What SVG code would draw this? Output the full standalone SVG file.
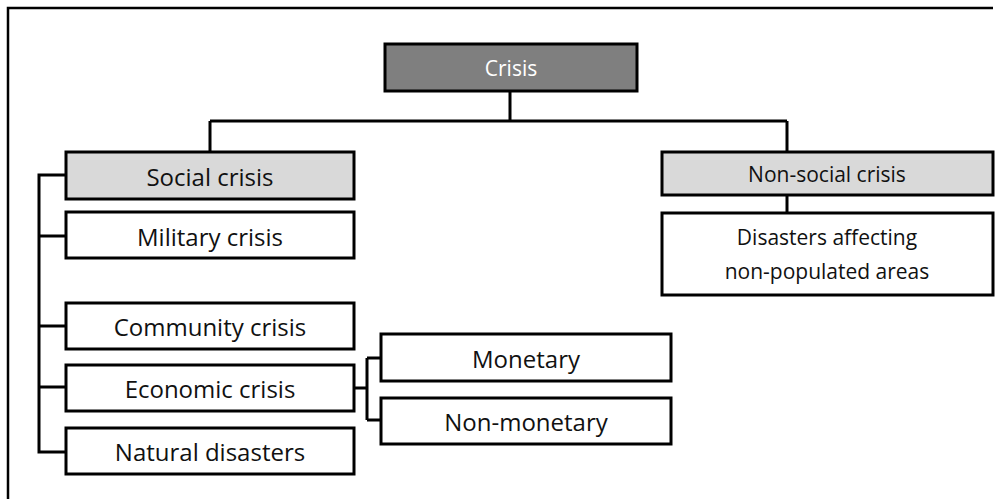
<svg xmlns="http://www.w3.org/2000/svg" width="1003" height="499" viewBox="0 0 1003 499">
<style>
.box{stroke:#000;stroke-width:3;fill:#fff}
.root{fill:#7f7f7f}
.cat{fill:#d9d9d9}
.lbl{font-family:"Open Sans","Liberation Sans",sans-serif;font-size:24px;fill:#111;text-anchor:middle;dominant-baseline:central}
.sm{font-size:21px}
.wl{fill:#fff}
.ln{stroke:#000;stroke-width:3;fill:none}
</style>
<rect width="1003" height="499" fill="#fff"/>
<path d="M8 510 V8 H993" stroke="#000" stroke-width="2.5" fill="none"/>
<g id="connectors">
<path class="ln" d="M510 92 V121 M210 121 H787 M210 121 V152 M787 121 V152"/>
<path class="ln" d="M787 195 V213"/>
<path class="ln" d="M65 175 H39 V452 H66 M39 236 H66 M39 326 H66 M39 387 H66"/>
<path class="ln" d="M354 388 H367 M367 358 V420 M367 358 H381 M367 420 H381"/>
</g>
<g id="crisis"><rect class="box root" x="385" y="44" width="252" height="47"/><text class="lbl sm wl" x="511" y="68">Crisis</text></g>
<g id="social"><rect class="box cat" x="66" y="152" width="288" height="47"/><text class="lbl" x="210" y="176">Social crisis</text></g>
<g id="nonsocial"><rect class="box cat" x="662" y="152" width="331" height="43"/><text class="lbl sm" x="827" y="174">Non-social crisis</text></g>
<g id="disasters"><rect class="box" x="662" y="213" width="331" height="82"/><text class="lbl sm" x="827" y="237">Disasters affecting</text><text class="lbl sm" x="827" y="271">non-populated areas</text></g>
<g id="military"><rect class="box" x="66" y="212" width="288" height="46"/><text class="lbl" x="210" y="236">Military crisis</text></g>
<g id="community"><rect class="box" x="66" y="303" width="288" height="46"/><text class="lbl" x="210" y="326">Community crisis</text></g>
<g id="economic"><rect class="box" x="66" y="365" width="288" height="46"/><text class="lbl" x="210" y="388">Economic crisis</text></g>
<g id="natural"><rect class="box" x="66" y="428" width="288" height="46"/><text class="lbl" x="210" y="451">Natural disasters</text></g>
<g id="monetary"><rect class="box" x="381" y="334" width="290" height="47"/><text class="lbl" x="526" y="358">Monetary</text></g>
<g id="nonmonetary"><rect class="box" x="381" y="398" width="290" height="46"/><text class="lbl" x="526" y="421">Non-monetary</text></g>
</svg>
